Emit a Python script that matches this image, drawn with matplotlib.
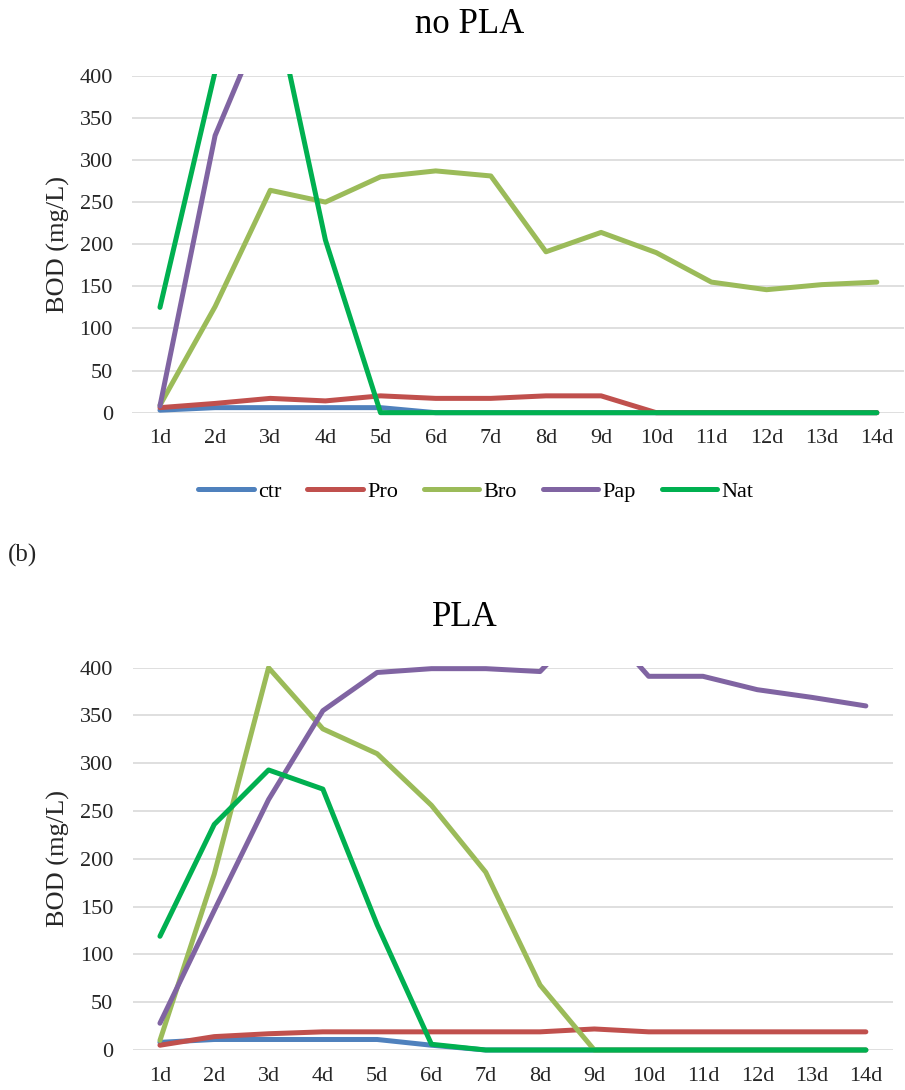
import numpy as np
import matplotlib
matplotlib.use('Agg')
import matplotlib.pyplot as plt
from matplotlib.patches import Rectangle

plt.rcParams['font.family'] = ['Liberation Serif', 'DejaVu Serif']

days = ['1d', '2d', '3d', '4d', '5d', '6d', '7d', '8d', '9d', '10d', '11d', '12d', '13d', '14d']
series = ['ctr', 'Pro', 'Bro', 'Pap', 'Nat']
colors = ['#4F81BD', '#C0504D', '#9BBB59', '#8064A2', '#00B050']

# no PLA
ctr_nopla = [3, 6, 6, 6, 6, 0, 0, 0, 0, 0, 0, 0, 0, 0]
pro_nopla = [6, 11, 17, 14, 20, 17, 17, 20, 20, 0, 0, 0, 0, 0]
bro_nopla = [9, 126, 264, 250, 280, 287, 281, 191, 214, 190, 155, 146, 152, 155]
pap_nopla = [8, 329, 485, 520, 560, 590, 610, 620, 630, 640, 650, 655, 660, 665]
nat_nopla = [125, 405, 510, 205, 0, 0, 0, 0, 0, 0, 0, 0, 0, 0]

# PLA
ctr_pla = [8, 11, 11, 11, 11, 5, 0, 0, 0, 0, 0, 0, 0, 0]
pro_pla = [5, 14, 17, 19, 19, 19, 19, 19, 22, 19, 19, 19, 19, 19]
bro_pla = [10, 184, 400, 336, 310, 256, 186, 68, 0, 0, 0, 0, 0, 0]
pap_pla = [28, 146, 262, 355, 395, 399, 399, 396, 455, 391, 391, 377, 369, 360]
nat_pla = [119, 236, 293, 273, 131, 6, 0, 0, 0, 0, 0, 0, 0, 0]

W, H = 905, 1090
fig = plt.figure(figsize=(W / 100, H / 100), dpi=100)

def draw(rect, data, title, title_xy, label_x):
    ax = fig.add_axes(rect)
    x = np.arange(len(days))
    lines = []
    for vals, c, name in zip(data, colors, series):
        ln, = ax.plot(x, vals, color=c, lw=3.6, label=name,
                      solid_capstyle='round', solid_joinstyle='round')
        # clip only at the top (like Excel), let the zero line show full width
        clip = Rectangle((-0.5, -30), 14, 432, transform=ax.transData)
        ln.set_clip_path(clip)
        lines.append(ln)
    ax.set_xlim(-0.5, 13.5)
    ax.set_ylim(0, 400)
    ax.set_yticks(np.arange(0, 401, 50))
    ax.set_xticks(x)
    ax.set_xticklabels(days)
    ax.grid(axis='y', color='#D9D9D9', lw=1.2)
    ax.set_axisbelow(True)
    for s in ax.spines.values():
        s.set_visible(False)
    ax.tick_params(length=0, labelsize=16, labelcolor='#262626')
    ax.tick_params(axis='x', pad=12)
    ax.tick_params(axis='y', pad=14)
    ax.set_ylabel('BOD (mg/L)', fontsize=19, color='#262626', va='center')
    ax.yaxis.set_label_coords(label_x, 0.5)
    fig.text(title_xy[0] / W, 1 - title_xy[1] / H, title, fontsize=25,
             ha='center', va='baseline', color='black')
    return lines

lines = draw([132.4 / W, 1 - 412.7 / H, 772 / W, 337 / H],
             [ctr_nopla, pro_nopla, bro_nopla, pap_nopla, nat_nopla],
             'no PLA', (470, 33), -0.0964)

draw([132.8 / W, 1 - 1050 / H, 760.2 / W, 382.3 / H],
     [ctr_pla, pro_pla, bro_pla, pap_pla, nat_pla],
     'PLA', (465, 626), -0.0984)

fig.legend(handles=lines, loc='center', bbox_to_anchor=(476 / W, 1 - 492 / H),
           ncol=5, frameon=False, fontsize=16, handlelength=2.5,
           handletextpad=0.2, columnspacing=1.15)

fig.text(8 / W, 1 - 555 / H, '(b)', fontsize=18, ha='left', va='center', color='#262626')

fig.savefig('out.png', dpi=100)
